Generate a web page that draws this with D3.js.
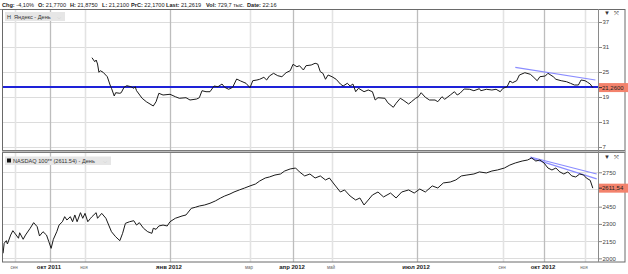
<!DOCTYPE html>
<html>
<head>
<meta charset="utf-8">
<script src="https://cdn.jsdelivr.net/npm/d3@7"></script>
<style>
  body { margin: 0; background: #fff; }
  svg { display: block; font-family: "Liberation Sans", Arial, sans-serif; }
</style>
</head>
<body>
<div id="chart"></div>
<script>
// header quote strip
var headerFields = [["Chg:", "-4,10%"], ["O:", "21,7700"], ["H:", "21,8750"], ["L:", "21,2100"],
    ["PrC:", "22,1700"], ["Last:", "21,2619"], ["Vol:", "729,7 тыс."], ["Date:", "22:16"]];

// month ticks along the bottom
var tickDates = ["2011-09-01", "2011-10-01", "2011-11-01", "2012-01-01", "2012-03-01", "2012-04-01",
    "2012-05-01", "2012-07-01", "2012-09-01", "2012-10-01", "2012-11-01"];
var tickLabels = ["сен", "окт 2011", "ноя", "янв 2012", "мар", "апр 2012", "май", "июл 2012", "сен", "окт 2012", "ноя"];
var tickMajor = [false, true, false, true, false, true, false, true, false, true, false];

var yandexTicks = [7, 13, 19, 25, 31, 37];
var nasdaqTicks = [2000, 2150, 2300, 2450, 2600, 2750];
var nasdaqTickLabels = [2000, 2150, 2300, 2450, 2750];   // 2600 sits under the last-price marker

// Яндекс, daily close
var yandex = [
["2011-11-06",28.43],["2011-11-08",27.47],["2011-11-09",27.88],["2011-11-10",26.92],["2011-11-11",24.93],["2011-11-12",25.31],
["2011-11-14",24.93],["2011-11-17",23.87],["2011-11-19",21.88],["2011-11-20",21.09],["2011-11-22",19.24],["2011-11-23",20.03],
["2011-11-26",19.89],["2011-11-27",20.03],["2011-11-29",21.33],["2011-12-01",21.71],["2011-12-04",21.47],["2011-12-06",21.09],
["2011-12-07",21.47],["2011-12-08",20.51],["2011-12-12",18.69],["2011-12-15",17.87],["2011-12-20",16.84],["2011-12-22",17.87],
["2011-12-24",19.89],["2011-12-27",19.48],["2012-01-01",19.65],["2012-01-05",19.07],["2012-01-08",18.69],["2012-01-13",18.83],
["2012-01-16",18.28],["2012-01-21",18.52],["2012-01-23",18.83],["2012-01-25",20.51],["2012-01-28",20.27],["2012-01-31",20.27],
["2012-02-03",21.64],["2012-02-06",21.47],["2012-02-09",22.12],["2012-02-11",21.33],["2012-02-14",20.85],["2012-02-17",21.33],
["2012-02-20",23.32],["2012-02-23",22.84],["2012-02-27",22.29],["2012-03-01",21.23],["2012-03-03",22.91],["2012-03-06",23.08],
["2012-03-08",23.25],["2012-03-11",23.73],["2012-03-13",23.08],["2012-03-15",24.04],["2012-03-18",24.69],["2012-03-21",24.11],
["2012-03-24",23.87],["2012-03-27",24.83],["2012-03-30",25.31],["2012-04-01",26.85],["2012-04-04",26.27],["2012-04-06",26.51],
["2012-04-09",25.48],["2012-04-11",26.51],["2012-04-15",26.68],["2012-04-18",27.09],["2012-04-20",26.92],["2012-04-22",25.07],
["2012-04-24",24.69],["2012-04-26",23.25],["2012-04-28",24.28],["2012-05-01",23.87],["2012-05-04",23.25],["2012-05-07",22.12],
["2012-05-09",21.64],["2012-05-12",22.29],["2012-05-14",21.64],["2012-05-16",22.12],["2012-05-18",20.27],["2012-05-20",21.09],
["2012-05-24",20.27],["2012-05-27",20.68],["2012-05-30",20.27],["2012-06-01",18.28],["2012-06-03",18.83],["2012-06-08",18.69],
["2012-06-10",17.63],["2012-06-14",16.53],["2012-06-16",17.49],["2012-06-19",18.69],["2012-06-21",18.28],["2012-06-25",17.32],
["2012-06-27",17.87],["2012-06-30",18.69],["2012-07-02",19.07],["2012-07-04",20.03],["2012-07-07",18.93],["2012-07-10",18.28],
["2012-07-14",18.28],["2012-07-16",17.87],["2012-07-19",19.07],["2012-07-21",18.45],["2012-07-25",19.48],["2012-07-28",20.27],
["2012-07-30",19.48],["2012-08-01",19.89],["2012-08-04",20.92],["2012-08-08",20.85],["2012-08-11",20.51],["2012-08-15",20.99],
["2012-08-16",20.51],["2012-08-20",20.85],["2012-08-24",20.68],["2012-08-27",20.85],["2012-08-30",20.27],["2012-09-01",21.09],
["2012-09-04",21.47],["2012-09-06",22.84],["2012-09-08",22.43],["2012-09-11",22.91],["2012-09-13",24.28],["2012-09-17",24.83],
["2012-09-21",24.45],["2012-09-23",23.87],["2012-09-26",22.91],["2012-09-28",23.87],["2012-10-02",24.04],["2012-10-04",24.69],
["2012-10-08",23.87],["2012-10-10",23.25],["2012-10-14",22.91],["2012-10-18",22.67],["2012-10-21",22.29],["2012-10-24",21.88],
["2012-10-27",21.88],["2012-10-29",23.08],["2012-11-01",22.91],["2012-11-03",22.53],["2012-11-05",22.12],["2012-11-07",21.26]
];
var yandexLast = 21.26;
var yandexLevel = 21.4;
var yandexTrend = [["2012-09-10", 26.13], ["2012-11-09", 23.08]];

// NASDAQ 100, daily close
var nasdaq = [
["2011-08-21",2044],["2011-08-22",2131],["2011-08-24",2154],["2011-08-25",2125],["2011-08-28",2203],["2011-08-30",2241],
["2011-09-02",2203],["2011-09-04",2175],["2011-09-05",2223],["2011-09-08",2166],["2011-09-10",2203],["2011-09-14",2262],
["2011-09-17",2311],["2011-09-20",2276],["2011-09-22",2195],["2011-09-25",2232],["2011-09-28",2203],["2011-09-30",2145],
["2011-10-02",2087],["2011-10-04",2166],["2011-10-07",2232],["2011-10-09",2290],["2011-10-12",2319],["2011-10-14",2363],
["2011-10-16",2334],["2011-10-19",2363],["2011-10-21",2319],["2011-10-23",2378],["2011-10-25",2319],["2011-10-28",2398],
["2011-10-30",2349],["2011-11-01",2392],["2011-11-03",2319],["2011-11-05",2349],["2011-11-06",2363],["2011-11-09",2398],
["2011-11-10",2349],["2011-11-13",2392],["2011-11-16",2349],["2011-11-18",2290],["2011-11-20",2232],["2011-11-23",2188],
["2011-11-26",2154],["2011-11-28",2218],["2011-11-30",2305],["2011-12-03",2319],["2011-12-06",2328],["2011-12-08",2290],
["2011-12-10",2311],["2011-12-13",2262],["2011-12-16",2232],["2011-12-19",2218],["2011-12-20",2262],["2011-12-22",2253],
["2011-12-24",2282],["2011-12-27",2290],["2011-12-30",2282],["2012-01-01",2319],["2012-01-05",2349],["2012-01-10",2369],
["2012-01-13",2378],["2012-01-17",2436],["2012-01-20",2445],["2012-01-23",2456],["2012-01-27",2465],["2012-01-31",2480],
["2012-02-04",2500],["2012-02-08",2526],["2012-02-11",2543],["2012-02-15",2561],["2012-02-18",2578],["2012-02-22",2596],
["2012-02-26",2613],["2012-03-01",2631],["2012-03-05",2648],["2012-03-08",2674],["2012-03-12",2700],["2012-03-15",2709],
["2012-03-19",2726],["2012-03-23",2735],["2012-03-26",2761],["2012-03-30",2779],["2012-04-03",2787],["2012-04-06",2753],
["2012-04-10",2718],["2012-04-14",2735],["2012-04-18",2700],["2012-04-22",2718],["2012-04-26",2683],["2012-04-29",2700],
["2012-05-03",2639],["2012-05-07",2578],["2012-05-10",2596],["2012-05-14",2543],["2012-05-18",2508],["2012-05-21",2526],
["2012-05-24",2465],["2012-05-27",2508],["2012-05-30",2552],["2012-06-03",2578],["2012-06-07",2535],["2012-06-12",2569],
["2012-06-16",2526],["2012-06-20",2578],["2012-06-25",2596],["2012-06-29",2569],["2012-07-03",2604],["2012-07-07",2578],
["2012-07-12",2631],["2012-07-16",2613],["2012-07-20",2657],["2012-07-25",2665],["2012-07-29",2683],["2012-08-02",2718],
["2012-08-06",2726],["2012-08-11",2735],["2012-08-15",2753],["2012-08-20",2744],["2012-08-24",2761],["2012-08-28",2770],
["2012-09-02",2787],["2012-09-06",2813],["2012-09-10",2831],["2012-09-15",2848],["2012-09-19",2857],["2012-09-22",2875],
["2012-09-25",2848],["2012-09-28",2857],["2012-10-01",2831],["2012-10-04",2787],["2012-10-07",2770],["2012-10-10",2787],
["2012-10-13",2753],["2012-10-16",2735],["2012-10-19",2753],["2012-10-22",2718],["2012-10-25",2709],["2012-10-28",2735],
["2012-10-31",2726],["2012-11-02",2700],["2012-11-05",2680],["2012-11-07",2611.54]
];
var nasdaqLast = 2611.54;
var nasdaqTrends = [
    [["2012-09-21", 2883], ["2012-11-10", 2735]],
    [["2012-09-21", 2875], ["2012-11-10", 2692]]
];

var parse = d3.timeParse("%Y-%m-%d");
var W = 628, H = 274;
var plotL = 2, plotR = 598, frameR = 625;
var topT = 9, topB = 150, botT = 153, botB = 262;

var svg = d3.select('#chart').append('svg')
    .attr('width', W).attr('height', H)
    .attr('viewBox', '0 0 ' + W + ' ' + H);

// trading-day chart: months are not evenly spaced, so a piecewise time scale
var xScale = d3.scaleTime()
    .domain([parse("2011-08-20")].concat(tickDates.map(parse), [parse("2012-11-11")]))
    .range([2, 15, 50, 85, 170, 250, 293, 332, 417, 503, 544, 585, 598]);

var yTop = d3.scaleLinear().domain([6.28, 40.12]).range([topB, topT]);
var yBot = d3.scaleLinear().domain([1968, 2918]).range([botB, botT]);

// gridlines
function drawGrid(yScale, ticks, t, b) {
    var g = svg.append('g');
    g.selectAll('line.h').data(ticks).enter().append('line')
        .attr('x1', plotL).attr('x2', plotR)
        .attr('y1', function(d){ return Math.round(yScale(d)) + 0.5; })
        .attr('y2', function(d){ return Math.round(yScale(d)) + 0.5; })
        .attr('stroke', '#dcdcdc');
    g.selectAll('line.v').data(tickDates).enter().append('line')
        .attr('x1', function(d){ return Math.round(xScale(parse(d))) + 0.5; })
        .attr('x2', function(d){ return Math.round(xScale(parse(d))) + 0.5; })
        .attr('y1', t).attr('y2', b)
        .attr('stroke', function(d, i){ return tickMajor[i] ? '#bdbdbd' : '#e3e3e3'; })
        .attr('stroke-width', function(d, i){ return tickMajor[i] ? 1.3 : 1.6; });
}
drawGrid(yTop, yandexTicks, topT, topB);
drawGrid(yBot, nasdaqTicks, botT, botB);

// support level + trend lines
svg.append('line')
    .attr('x1', plotL).attr('x2', plotR)
    .attr('y1', yTop(yandexLevel)).attr('y2', yTop(yandexLevel))
    .attr('stroke', '#1e22d8').attr('stroke-width', 2);

var seriesLine = function(ys) {
    return d3.line().x(function(d){ return xScale(parse(d[0])); }).y(function(d){ return ys(d[1]); });
};
svg.append('path').attr('d', seriesLine(yTop)(yandexTrend))
    .attr('fill', 'none').attr('stroke', '#8a8cff').attr('stroke-width', 1.2);
nasdaqTrends.forEach(function(t){
    svg.append('path').attr('d', seriesLine(yBot)(t))
        .attr('fill', 'none').attr('stroke', '#8a8cff').attr('stroke-width', 1.2);
});

// price lines
svg.append('path').attr('d', seriesLine(yTop)(yandex))
    .attr('fill', 'none').attr('stroke', '#1a1a1a').attr('stroke-width', 1);
svg.append('path').attr('d', seriesLine(yBot)(nasdaq))
    .attr('fill', 'none').attr('stroke', '#1a1a1a').attr('stroke-width', 1);

// frame
svg.append('line').attr('x1', 0).attr('x2', frameR).attr('y1', 9.5).attr('y2', 9.5).attr('stroke', '#8a8a8a');
svg.append('rect').attr('x', 2.5).attr('y', 9.5).attr('width', frameR - 2.5).attr('height', botB - 9.5)
    .attr('fill', 'none').attr('stroke', '#6a6a6a');
svg.append('rect').attr('x', 2).attr('y', topB).attr('width', frameR - 2).attr('height', 3)
    .attr('fill', '#7a7a7a');
svg.append('rect').attr('x', 2).attr('y', topB + 1).attr('width', frameR - 2).attr('height', 1)
    .attr('fill', '#bbb');
svg.append('line').attr('x1', plotR + 0.5).attr('x2', plotR + 0.5).attr('y1', topT).attr('y2', botB)
    .attr('stroke', '#8a8a8a');

// right axes
function drawAxis(yScale, ticks) {
    var ax = svg.append('g').attr('transform', 'translate(' + (plotR + 1) + ',0)')
        .call(d3.axisRight(yScale).tickValues(ticks).tickSize(3).tickPadding(0.5).tickFormat(d3.format('d')));
    ax.select('.domain').remove();
    ax.selectAll('line').attr('stroke', '#888');
    ax.selectAll('text').attr('font-size', 6).attr('fill', '#444')
        .attr('font-family', '"Liberation Sans", Arial, sans-serif');
}
drawAxis(yTop, yandexTicks);
drawAxis(yBot, nasdaqTickLabels);

// last value markers
function lastLabel(yScale, v, txt) {
    var y = yScale(v);
    svg.append('rect').attr('x', plotR + 1).attr('y', y - 4.5).attr('width', W - plotR).attr('height', 9)
        .attr('fill', '#f3826c');
    svg.append('line').attr('x1', plotR + 1).attr('x2', plotR + 4).attr('y1', y).attr('y2', y).attr('stroke', '#333');
    svg.append('text').attr('x', plotR + 4).attr('y', y + 2.2).attr('font-size', 6).attr('fill', '#222').text(txt);
}
lastLabel(yTop, yandexLast, '21,2600');
lastLabel(yBot, nasdaqLast, '2611,54');

// panel icons
[topT + 4, botT + 4].forEach(function(y){
    svg.append('text').attr('x', 604).attr('y', y + 2).attr('font-size', 6).attr('fill', '#333').text('▼');
    svg.append('text').attr('x', 614).attr('y', y + 2).attr('font-size', 6).attr('fill', '#333').text('⤧');
});

// x axis labels
svg.append('g').selectAll('text').data(tickDates).enter().append('text')
    .attr('x', function(d){ return xScale(parse(d)) - 1; })
    .attr('y', 268.5)
    .attr('text-anchor', 'middle')
    .attr('font-size', function(d, i){ return tickMajor[i] ? 6 : 4.5; })
    .attr('font-weight', function(d, i){ return tickMajor[i] ? 'bold' : 'normal'; })
    .attr('fill', function(d, i){ return tickMajor[i] ? '#222' : '#666'; })
    .text(function(d, i){ return tickLabels[i]; });

// header quote strip
var headerX = [2, 38, 70, 102, 131, 166, 206, 247];
var hdr = svg.append('g');
headerFields.forEach(function(f, i){
    var t = hdr.append('text').attr('x', headerX[i]).attr('y', 6.5).attr('font-size', 5.6).attr('fill', '#222');
    t.append('tspan').attr('font-weight', 'bold').text(f[0]);
    t.append('tspan').text(' ' + f[1]);
});

// legends
svg.append('rect').attr('x', 5).attr('y', 12).attr('width', 60).attr('height', 9).attr('fill', '#e6e6e6');
svg.append('text').attr('x', 7).attr('y', 18.5).attr('font-size', 5.5).attr('fill', '#333').text('Н');
svg.append('text').attr('x', 14).attr('y', 18.5).attr('font-size', 5.6).attr('fill', '#333').text('Яндекс - День');
svg.append('text').attr('x', 57).attr('y', 18.5).attr('font-size', 5.6).attr('fill', '#bbb').text('⌵');

svg.append('rect').attr('x', 5).attr('y', 156.5).attr('width', 106).attr('height', 8.5).attr('fill', '#e6e6e6');
svg.append('rect').attr('x', 7).attr('y', 158.5).attr('width', 4).attr('height', 4).attr('fill', '#111');
svg.append('text').attr('x', 13).attr('y', 162.8).attr('font-size', 5.6).attr('fill', '#333').text('NASDAQ 100** (2611.54) - День');
svg.append('text').attr('x', 103).attr('y', 162.8).attr('font-size', 5.6).attr('fill', '#bbb').text('⌵');
</script>
</body>
</html>
